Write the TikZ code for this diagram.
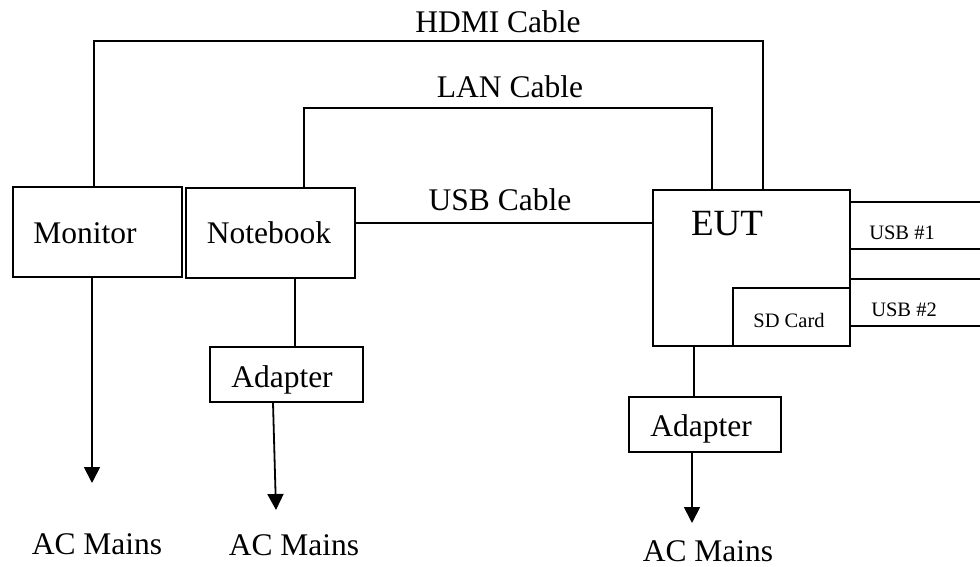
\documentclass[tikz,border=0pt]{standalone}
\usepackage{fontspec}
\setmainfont{Liberation Serif}
\usetikzlibrary{arrows.meta}
\begin{document}
\begin{tikzpicture}[x=1pt,y=-1pt,
  box/.style={draw,line width=1.8pt,inner sep=0pt,anchor=north west},
  wire/.style={line width=1.8pt},
  arr/.style={line width=1.8pt,-{Triangle[width=16pt,length=16pt]}},
  lab/.style={font=\fontsize{31.5}{36}\selectfont,anchor=base,inner sep=0pt},
  small/.style={font=\fontsize{20.5}{24}\selectfont,anchor=base,inner sep=0pt},
  big/.style={font=\fontsize{37}{42}\selectfont,anchor=base,inner sep=0pt}]
\useasboundingbox (0,0) rectangle (980,567);

% boxes
\node[box,minimum width=169pt,minimum height=90pt] (mon) at (12,186) {};
\node[box,minimum width=169pt,minimum height=90pt] (nb) at (185,187) {};
\node[box,minimum width=197pt,minimum height=156pt] (eut) at (652,189) {};
\node[box,minimum width=117pt,minimum height=58pt] (sd) at (732,287) {};
\node[box,minimum width=153pt,minimum height=55pt] (ad1) at (209,346) {};
\node[box,minimum width=152pt,minimum height=55pt] (ad2) at (628,396) {};

% texts
\node[lab] (monT) at (85,243) {Monitor};
\node[lab] (nbT) at (269,243) {Notebook};
\node[big] (eutT) at (727,235) {EUT};
\node[small] (sdT) at (789,327) {SD Card};
\node[lab] (ad1T) at (282,387) {Adapter};
\node[lab] (ad2T) at (701,436) {Adapter};
\node[lab] (hdmiT) at (498,33) {HDMI Cable};
\node[lab] (lanT) at (510,98) {LAN Cable};
\node[lab] (usbT) at (500,210) {USB Cable};
\node[small] (u1T) at (902,239) {USB \#1};
\node[small] (u2T) at (904,316) {USB \#2};
\node[lab] (ac1) at (97,554) {AC Mains};
\node[lab] (ac2) at (294,555) {AC Mains};
\node[lab] (ac3) at (708,561) {AC Mains};

% connector coordinates
\coordinate (hL) at (94,41);
\coordinate (hR) at (763,41);
\coordinate (lL) at (304,108);
\coordinate (lR) at (712,108);
\coordinate (uY) at (0,223);
\coordinate (u1a) at (980,202);
\coordinate (u1b) at (980,249);
\coordinate (u2a) at (980,279);
\coordinate (u2b) at (980,326);
\coordinate (mX) at (92,0);
\coordinate (t1) at (92,483);
\coordinate (nbX) at (295,0);
\coordinate (a1X) at (273,0);
\coordinate (t2) at (276,510);
\coordinate (eX) at (694,0);
\coordinate (a2X) at (692,0);
\coordinate (t3) at (692,523);

% cables
\draw[wire] (mon.north -| hL) -- (hL) -- (hR) -- (eut.north -| hR);
\draw[wire] (nb.north -| lL) -- (lL) -- (lR) -- (eut.north -| lR);
\draw[wire] (nb.east |- uY) -- (eut.west |- uY);
\draw[wire] (eut.east |- u1a) -- (u1a);
\draw[wire] (eut.east |- u1b) -- (u1b);
\draw[wire] (eut.east |- u2a) -- (u2a);
\draw[wire] (eut.east |- u2b) -- (u2b);

% power
\draw[arr] (mon.south -| mX) -- (t1);
\draw[wire] (nb.south -| nbX) -- (ad1.north -| nbX);
\draw[arr] (ad1.south -| a1X) -- (t2);
\draw[wire] (eut.south -| eX) -- (ad2.north -| eX);
\draw[arr] (ad2.south -| a2X) -- (t3);
\end{tikzpicture}
\end{document}
